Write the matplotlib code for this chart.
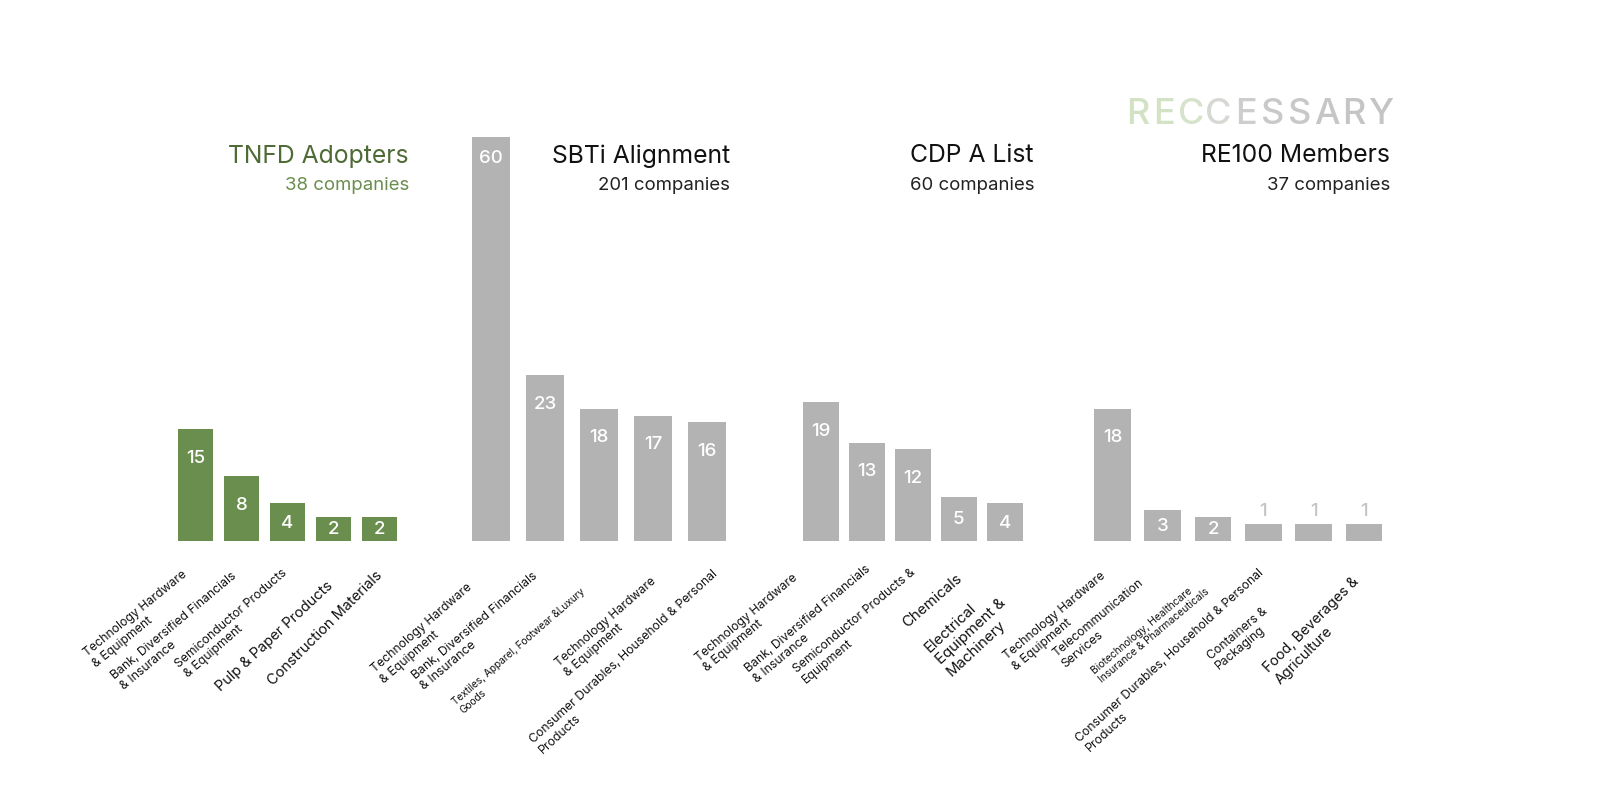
import numpy as np
import matplotlib
matplotlib.use("Agg")
import matplotlib.pyplot as plt

plt.rcParams['font.family'] = ['Inter', 'DejaVu Sans']

# datos de cada grupo
tnfd_labels = ["Technology Hardware\n& Equipment", "Bank, Diversified Financials\n& Insurance",
               "Semiconductor Products\n& Equipment", "Pulp & Paper Products", "Construction Materials"]
tnfd_values = [15, 8, 4, 2, 2]

sbti_labels = ["Technology Hardware\n& Equipment", "Bank, Diversified Financials\n& Insurance",
               "Textiles, Apparel, Footwear &Luxury\nGoods", "Technology Hardware\n& Equipment",
               "Consumer Durables, Household & Personal\nProducts"]
sbti_values = [60, 23, 18, 17, 16]

cdp_labels = ["Technology Hardware\n& Equipment", "Bank, Diversified Financials\n& Insurance",
              "Semiconductor Products &\nEquipment", "Chemicals", "Electrical\nEquipment &\nMachinery"]
cdp_values = [19, 13, 12, 5, 4]

re100_labels = ["Technology Hardware\n& Equipment", "Telecommunication\nServices",
                "Biotechnology, Healthcare\nInsurance & Pharmaceuticals",
                "Consumer Durables, Household & Personal\nProducts", "Containers &\nPackaging",
                "Food, Beverages &\nAgriculture"]
re100_values = [18, 3, 2, 1, 1, 1]

titles = ["TNFD Adopters", "SBTi Alignment", "CDP A List", "RE100 Members"]
subtitles = ["38 companies", "201 companies", "60 companies", "37 companies"]

# estilos
verde = "#6a8e4e"
gris = "#b3b3b3"
W, H = 1600, 812
base = -1.556
ytop = 58.25
px_unidad = 6.75

# posicion de cada grupo en pixeles: izquierda, derecha, ancho de barra
grupos = [
    dict(lab=tnfd_labels, val=tnfd_values, L=172.35, R=402.85, bw=0.767, color=verde,
         tcol="#4f6b35", scol=verde, tx=409,
         off=[(-13.8, 26.3), (-10, 28), (-6.3, 24.7), (-7.3, 36.3), (-5, 26)],
         fs=[8.8, 8.8, 8.8, 10.5, 10.5], rot=[39, 40, 41, 43, 45]),
    dict(lab=sbti_labels, val=sbti_values, L=464.2, R=734.2, bw=0.71, color=gris,
         tcol="#111111", scol="#222222", tx=730,
         off=[(-24.5, 39.7), (-13.5, 28), (-19.2, 44.7), (-3.2, 33), (4.5, 26.3)],
         fs=[8.8, 8.8, 7.3, 8.8, 8.8], rot=[41, 40, 41, 41, 42.5]),
    dict(lab=cdp_labels, val=cdp_values, L=798, R=1027.6, bw=0.78, color=gris,
         tcol="#111111", scol="#222222", tx=1034,
         off=[(-29.3, 29.7), (-2, 21.3), (-3, 24.7), (-3.7, 29.7), (-17, 42.3)],
         fs=[8.8, 8.8, 8.8, 10.8, 10.8], rot=[40, 40, 40, 41, 43]),
    dict(lab=re100_labels, val=re100_values, L=1087.4, R=1389, bw=0.73, color=gris,
         tcol="#111111", scol="#222222", tx=1390,
         off=[(-12.5, 28), (-24.5, 34.7), (-16, 36), (-5, 24.7), (-52, 63), (-12.3, 33)],
         fs=[8.8, 8.8, 7.4, 8.8, 8.8, 10.3], rot=[40, 40, 40, 42.5, 40, 45]),
]

fig = plt.figure(figsize=(16, 8.12), dpi=100)

for k, g in enumerate(grupos):
    ax = fig.add_axes([g['L'] / W, (H - 542) / H, (g['R'] - g['L']) / W, (542 - 138.3) / H])
    v = np.array(g['val'], dtype=float)
    x = np.arange(len(v))
    ax.bar(x, v - base, bottom=base, width=g['bw'], color=g['color'], edgecolor='none')
    ax.set_xlim(-0.5, len(v) - 0.5)
    ax.set_ylim(base, ytop)
    ax.axis('off')

    # etiquetas de valor
    for i, val in enumerate(v):
        alto_px = (val - base) * px_unidad
        if val > ytop:
            y, col = ytop - 3, 'white'
        elif alto_px >= 22:
            y, col = max(val - 28 / px_unidad, (val + base) / 2), 'white'
        else:
            y, col = val + 2.0, '#c4c4c4'
        ax.text(i, y, f"{int(val)}", ha='center', va='center', color=col,
                fontsize=13.5, fontweight='medium', clip_on=False)

    # etiquetas de categoria, giradas
    for i, lab in enumerate(g['lab']):
        dx, dy = g['off'][i]
        ax.annotate(lab, xy=(i, base), xycoords='data', xytext=(dx, -dy),
                    textcoords='offset pixels', ha='right', va='top',
                    rotation=g['rot'][i], rotation_mode='anchor', multialignment='left',
                    fontsize=g['fs'][i], color='#111111', annotation_clip=False)

    # titulos
    fig.text(g['tx'] / W, 1 - 156 / H, titles[k], ha='right', va='center',
             fontsize=17.8, color=g['tcol'])
    fig.text(g['tx'] / W, 1 - 186 / H, subtitles[k], ha='right', va='center',
             fontsize=13.4, color=g['scol'])

# logo
logo = "RECCESSARY"
logo_col = ["#d3e2c4", "#d3e2c4", "#d6e2cc", "#d6d9d3", "#cdcdcd",
            "#c9c9c9", "#c8c8c8", "#c6c6c6", "#c5c5c5", "#c4c4c4"]
x0, x1 = 1124, 1394
paso = (x1 - x0) / len(logo)
for i, ch in enumerate(logo):
    fig.text((x0 + paso * (i + 0.5)) / W, 1 - 114 / H, ch, ha='center', va='center',
             fontsize=26, color=logo_col[i], fontweight='medium')

fig.savefig("out.png", dpi=100, facecolor='white')
